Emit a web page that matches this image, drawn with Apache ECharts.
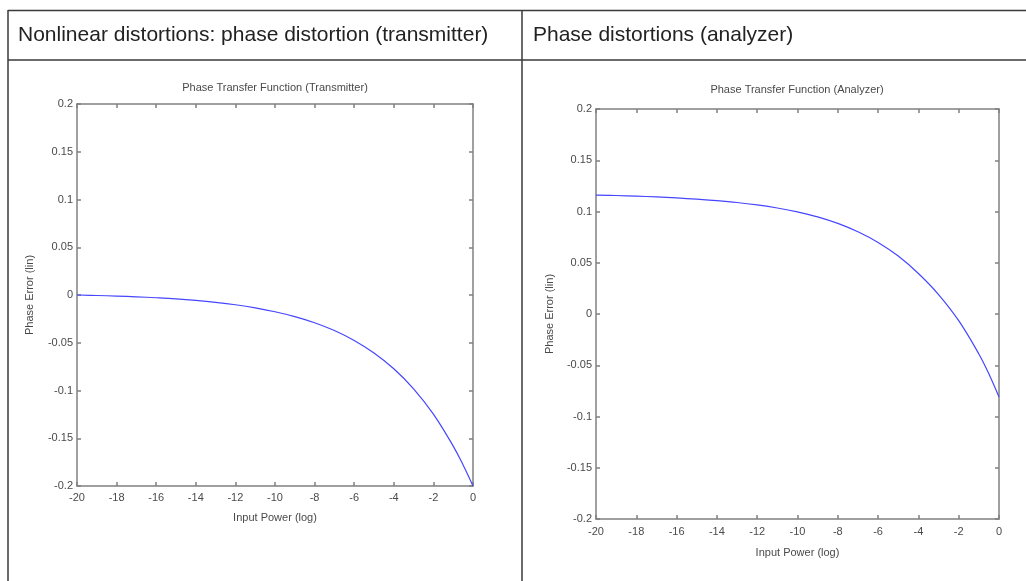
<!DOCTYPE html>
<html>
<head>
<meta charset="utf-8">
<script src="https://cdn.jsdelivr.net/npm/echarts@6/dist/echarts.min.js"></script>
<style>
html,body{margin:0;padding:0;background:#fff;}
#c{width:1026px;height:581px;}
</style>
</head>
<body>
<div id="c"></div>
<script>
// ---- data ----
const headerLabels = ['Nonlinear distortions: phase distortion (transmitter)', 'Phase distortions (analyzer)'];
const plotTitles = ['Phase Transfer Function (Transmitter)', 'Phase Transfer Function (Analyzer)'];
const xAxisTitle = 'Input Power (log)';
const yAxisTitle = 'Phase Error (lin)';
const inputPower = [-20,-19,-18,-17,-16,-15,-14,-13,-12,-11,-10,-9,-8,-7,-6,-5,-4,-3,-2,-1,-0.5,0];
const transmitterPhase = [0,-0.0005,-0.0011,-0.0019,-0.0029,-0.0041,-0.0057,-0.0077,-0.0102,-0.0134,-0.0175,-0.0226,-0.0290,-0.0372,-0.0476,-0.0607,-0.0772,-0.0982,-0.1247,-0.1582,-0.1780,-0.2];
const analyzerPhase = [0.1160,0.1156,0.1150,0.1142,0.1132,0.1120,0.1106,0.1088,0.1064,0.1034,0.0996,0.0948,0.0884,0.0802,0.0698,0.0565,0.0395,0.0190,-0.0065,-0.0390,-0.0585,-0.0810];

const FONT = "'Liberation Sans', Arial, sans-serif";
const AX = '#808080';
const TXT = '#4a4a4a';

const grids = [
  {left: 77, top: 104, width: 396, height: 382},
  {left: 596, top: 109, width: 403, height: 410}
];
const labelGap = [6, 7];
const nameGapX = [26, 28];
const nameGapY = [42, 41];

const xAxes = [], yAxes = [], series = [];
grids.forEach((g, i) => {
  const base = {
    gridIndex: i, type: 'value', min: -20, max: 0, interval: 2,
    axisLine: {show: true, onZero: false, lineStyle: {color: AX, width: 1.5}},
    axisTick: {show: true, inside: true, length: 4, lineStyle: {color: AX, width: 1.5}},
    splitLine: {show: false}
  };
  xAxes.push(Object.assign({}, base, {
    position: 'bottom',
    name: xAxisTitle, nameLocation: 'middle', nameGap: nameGapX[i],
    nameTextStyle: {fontFamily: FONT, fontSize: 11, color: TXT},
    axisLabel: {show: true, margin: labelGap[i], fontFamily: FONT, fontSize: 11, color: TXT,
      showMinLabel: true, showMaxLabel: true}
  }));
  xAxes.push(Object.assign({}, base, {position: 'top', axisLabel: {show: false}}));
  const ybase = {
    gridIndex: i, type: 'value', min: -0.2, max: 0.2, interval: 0.05,
    axisLine: {show: true, onZero: false, lineStyle: {color: AX, width: 1.5}},
    axisTick: {show: true, inside: true, length: 4, lineStyle: {color: AX, width: 1.5}},
    splitLine: {show: false}
  };
  yAxes.push(Object.assign({}, ybase, {
    position: 'left',
    name: yAxisTitle, nameLocation: 'middle', nameGap: nameGapY[i],
    nameTextStyle: {fontFamily: FONT, fontSize: 11, color: TXT},
    axisLabel: {show: true, margin: 4, fontFamily: FONT, fontSize: 11, color: TXT,
      formatter: v => String(+v.toFixed(2))}
  }));
  yAxes.push(Object.assign({}, ybase, {position: 'right', axisLabel: {show: false}}));
});

const dataSets = [transmitterPhase, analyzerPhase];
dataSets.forEach((d, i) => {
  series.push({
    type: 'line', xAxisIndex: i * 2, yAxisIndex: i * 2,
    data: inputPower.map((x, k) => [x, d[k]]),
    showSymbol: false, smooth: 0.4,
    lineStyle: {color: '#4646ff', width: 1.2},
    silent: true, animation: false
  });
});

const LC = '#3a3a3a';
const graphics = [
  {type: 'line', shape: {x1: 8, y1: 10.5, x2: 1026, y2: 10.5}, style: {stroke: LC, lineWidth: 1.5}},
  {type: 'line', shape: {x1: 8, y1: 60, x2: 1026, y2: 60}, style: {stroke: LC, lineWidth: 1.5}},
  {type: 'line', shape: {x1: 8, y1: 10, x2: 8, y2: 581}, style: {stroke: LC, lineWidth: 1.5}},
  {type: 'line', shape: {x1: 522, y1: 10, x2: 522, y2: 581}, style: {stroke: LC, lineWidth: 1.5}},
  {type: 'text', x: 18, y: 35, style: {text: headerLabels[0], font: '21px ' + FONT, fill: '#222', textVerticalAlign: 'middle'}},
  {type: 'text', x: 533, y: 35, style: {text: headerLabels[1], font: '21px ' + FONT, fill: '#222', textVerticalAlign: 'middle'}},
  {type: 'text', x: 275, y: 88, style: {text: plotTitles[0], font: '11px ' + FONT, fill: TXT, textAlign: 'center', textVerticalAlign: 'middle'}},
  {type: 'text', x: 797, y: 90, style: {text: plotTitles[1], font: '11px ' + FONT, fill: TXT, textAlign: 'center', textVerticalAlign: 'middle'}}
];

const chart = echarts.init(document.getElementById('c'), null, {renderer: 'canvas'});
chart.setOption({
  animation: false,
  backgroundColor: '#fff',
  grid: grids.map(g => Object.assign({containLabel: false}, g)),
  xAxis: xAxes,
  yAxis: yAxes,
  series: series,
  graphic: graphics
});
</script>
</body>
</html>
